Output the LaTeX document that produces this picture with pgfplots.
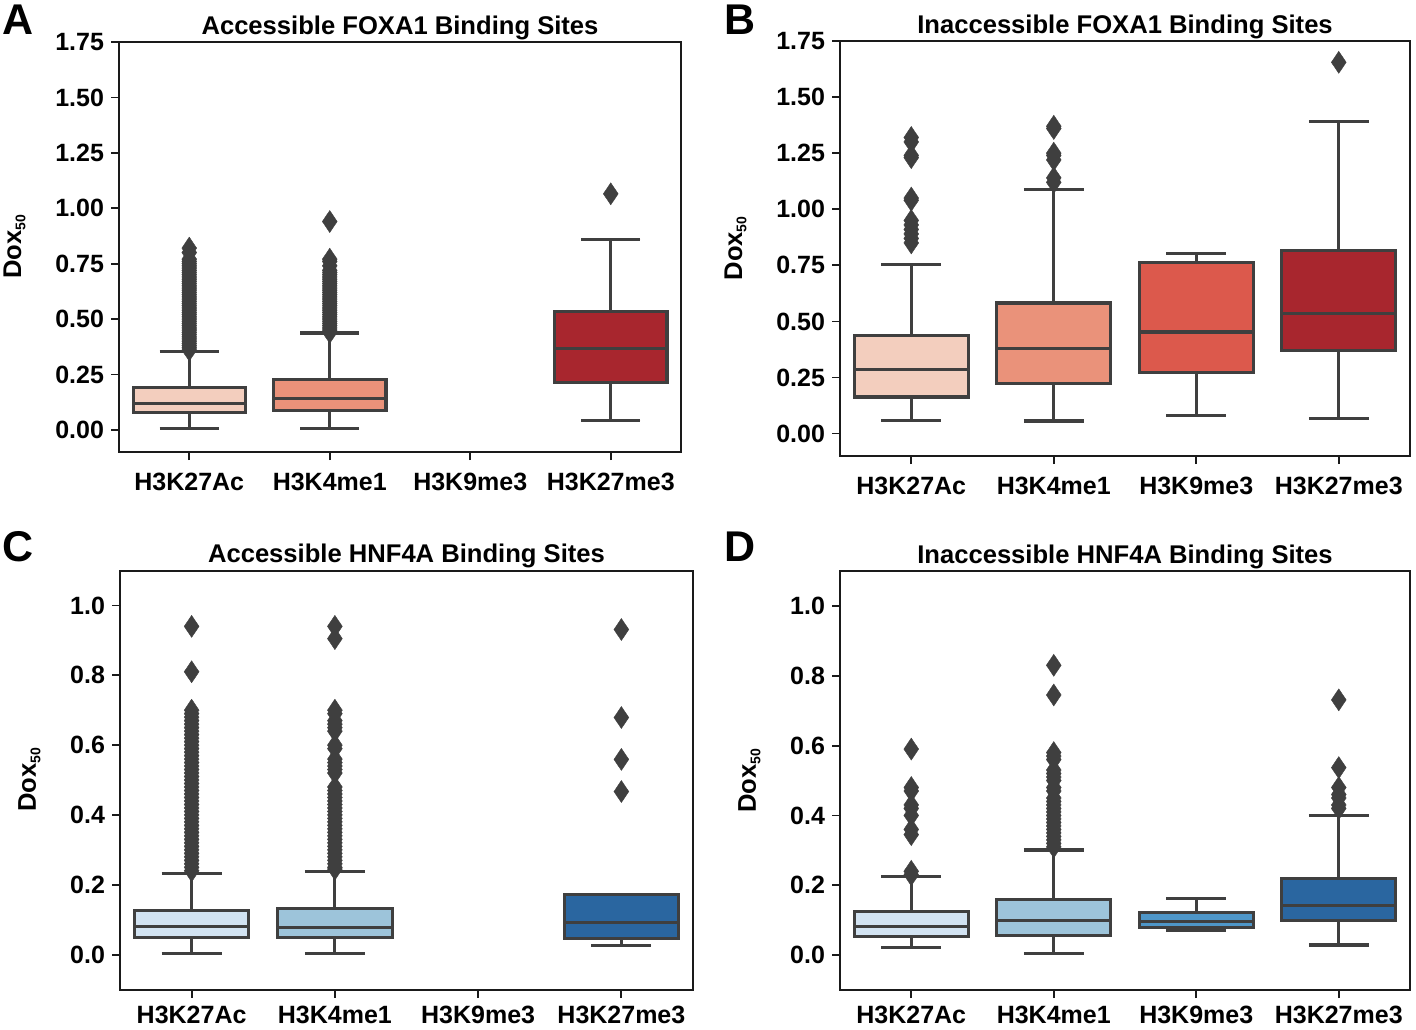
\documentclass[border=0pt]{standalone}
\usepackage{fontspec}
\setmainfont{Liberation Sans}
\usepackage{pgfplots}
\pgfplotsset{compat=1.18}
\usepgfplotslibrary{statistics}

\definecolor{dk}{HTML}{3F3F3F}
\definecolor{axc}{HTML}{1A1A1A}
\definecolor{rA}{HTML}{F3CEBE}
\definecolor{rB}{HTML}{EA927A}
\definecolor{rC}{HTML}{DC594C}
\definecolor{rD}{HTML}{A8262E}
\definecolor{bA}{HTML}{D2E3F2}
\definecolor{bB}{HTML}{9DC4DA}
\definecolor{bC}{HTML}{4E96C8}
\definecolor{bD}{HTML}{2A66A0}

\pgfplotsset{
  panel/.style={
    scale only axis,
    xmin=-0.5, xmax=3.5,
    xtick={0,1,2,3},
    xticklabels={H3K27Ac,H3K4me1,H3K9me3,H3K27me3},
    tick align=outside, xtick pos=bottom, ytick pos=left,
    major tick length=4pt,
    every tick/.style={axc, line width=0.9pt},
    axis line style={axc, line width=1pt},
    ticklabel style={font=\bfseries\fontsize{12.5}{14}\selectfont},
    /pgf/number format/assume math mode=true,
    title style={font=\bfseries\fontsize{12.8}{15}\selectfont, at={(0.5,1)}, anchor=base, yshift=-2.2pt},
    ylabel={Dox{\fontsize{7}{8}\selectfont\raisebox{-2.2pt}{50}}},
    ylabel style={font=\bfseries\fontsize{12.8}{14}\selectfont, yshift=8pt},
    boxplot/draw direction=y,
    clip=false,
  },
  bx/.style={draw=dk, line width=1.55pt, mark=diamond*,
    mark size=5.5pt,
    mark options={solid, fill=dk, draw=dk, line width=0.2pt, xscale=0.9},
    boxplot/box extend=0.8, boxplot/whisker extend=0.42},
  fmtA/.style={ytick={0,0.25,0.5,0.75,1,1.25,1.5,1.75}, ymin=-0.1, ymax=1.75,
    xticklabel style={yshift=-3pt},
    yticklabel style={/pgf/number format/.cd, fixed, fixed zerofill, precision=2}},
  fmtC/.style={ytick={0,0.2,0.4,0.6,0.8,1.0}, ymin=-0.1, ymax=1.1,
    xticklabel style={yshift=-0.5pt},
    yticklabel style={/pgf/number format/.cd, fixed, fixed zerofill, precision=1}},
}

\begin{document}
\begin{tikzpicture}
\useasboundingbox (0,0) rectangle (708pt,-514.5pt);

% ---------------- A ----------------
\begin{axis}[panel, fmtA, at={(59.5pt,-226pt)}, anchor=south west,
  width=281pt, height=205pt, title={Accessible FOXA1 Binding Sites}]
\addplot[bx, fill=rA, boxplot prepared={draw position=0, lower whisker=0.008,
  lower quartile=0.077, median=0.120, upper quartile=0.191, upper whisker=0.354}]
  table[row sep=\\, y index=0] {y\\0.36\\0.37\\0.38\\0.39\\0.40\\0.41\\0.42\\0.43\\0.44\\0.45\\0.46\\0.47\\0.48\\0.49\\0.50\\0.51\\0.52\\0.53\\0.54\\0.55\\0.56\\0.57\\0.58\\0.59\\0.60\\0.61\\0.62\\0.63\\0.64\\0.65\\0.66\\0.67\\0.68\\0.69\\0.70\\0.71\\0.72\\0.73\\0.74\\0.75\\0.76\\0.77\\0.80\\0.82\\};
\addplot[bx, fill=rB, boxplot prepared={draw position=1, lower whisker=0.008,
  lower quartile=0.086, median=0.142, upper quartile=0.229, upper whisker=0.437}]
  table[row sep=\\, y index=0] {y\\0.44\\0.45\\0.46\\0.47\\0.48\\0.49\\0.50\\0.51\\0.52\\0.53\\0.54\\0.55\\0.56\\0.57\\0.58\\0.59\\0.60\\0.61\\0.62\\0.63\\0.64\\0.65\\0.66\\0.67\\0.68\\0.69\\0.70\\0.71\\0.72\\0.74\\0.76\\0.77\\0.94\\};
\addplot[bx, fill=rD, boxplot prepared={draw position=3, lower whisker=0.041,
  lower quartile=0.214, median=0.367, upper quartile=0.535, upper whisker=0.860}]
  table[row sep=\\, y index=0] {y\\1.065\\};
\end{axis}

% ---------------- B ----------------
\begin{axis}[panel, fmtA, at={(420pt,-228pt)}, anchor=south west,
  width=285pt, height=207.5pt, title={Inaccessible FOXA1 Binding Sites}]
\addplot[bx, fill=rA, boxplot prepared={draw position=0, lower whisker=0.059,
  lower quartile=0.163, median=0.286, upper quartile=0.438, upper whisker=0.754}]
  table[row sep=\\, y index=0] {y\\0.85\\0.87\\0.89\\0.91\\0.93\\0.95\\1.04\\1.05\\1.23\\1.24\\1.30\\1.32\\};
\addplot[bx, fill=rB, boxplot prepared={draw position=1, lower whisker=0.056,
  lower quartile=0.223, median=0.378, upper quartile=0.582, upper whisker=1.090}]
  table[row sep=\\, y index=0] {y\\1.12\\1.14\\1.22\\1.24\\1.25\\1.36\\1.37\\};
\addplot[bx, fill=rC, boxplot prepared={draw position=2, lower whisker=0.082,
  lower quartile=0.274, median=0.453, upper quartile=0.764, upper whisker=0.804}]
  coordinates {};
\addplot[bx, fill=rD, boxplot prepared={draw position=3, lower whisker=0.067,
  lower quartile=0.371, median=0.534, upper quartile=0.816, upper whisker=1.390}]
  table[row sep=\\, y index=0] {y\\1.655\\};
\end{axis}

% ---------------- C ----------------
\begin{axis}[panel, fmtC, at={(60pt,-494.75pt)}, anchor=south west,
  width=286.5pt, height=209.5pt, title={Accessible HNF4A Binding Sites}]
\addplot[bx, fill=bA, boxplot prepared={draw position=0, lower whisker=0.003,
  lower quartile=0.050, median=0.081, upper quartile=0.127, upper whisker=0.232}]
  table[row sep=\\, y index=0] {y\\0.24\\0.25\\0.26\\0.27\\0.28\\0.29\\0.30\\0.31\\0.32\\0.33\\0.34\\0.35\\0.36\\0.37\\0.38\\0.39\\0.40\\0.41\\0.42\\0.43\\0.44\\0.45\\0.46\\0.47\\0.48\\0.49\\0.50\\0.51\\0.52\\0.53\\0.54\\0.55\\0.56\\0.57\\0.58\\0.59\\0.60\\0.61\\0.62\\0.63\\0.64\\0.65\\0.66\\0.67\\0.68\\0.69\\0.70\\0.81\\0.94\\};
\addplot[bx, fill=bB, boxplot prepared={draw position=1, lower whisker=0.003,
  lower quartile=0.050, median=0.078, upper quartile=0.131, upper whisker=0.239}]
  table[row sep=\\, y index=0] {y\\0.245\\0.25\\0.26\\0.27\\0.28\\0.29\\0.30\\0.31\\0.32\\0.33\\0.34\\0.35\\0.36\\0.37\\0.38\\0.39\\0.40\\0.41\\0.42\\0.43\\0.44\\0.45\\0.46\\0.47\\0.48\\0.52\\0.53\\0.54\\0.55\\0.56\\0.59\\0.60\\0.64\\0.65\\0.66\\0.67\\0.69\\0.70\\0.905\\0.94\\};
\addplot[bx, fill=bD, boxplot prepared={draw position=3, lower whisker=0.027,
  lower quartile=0.046, median=0.091, upper quartile=0.172, upper whisker=0.172}]
  table[row sep=\\, y index=0] {y\\0.467\\0.559\\0.679\\0.931\\};
\end{axis}

% ---------------- D ----------------
\begin{axis}[panel, fmtC, at={(420pt,-495pt)}, anchor=south west,
  width=285pt, height=209.5pt, title={Inaccessible HNF4A Binding Sites}]
\addplot[bx, fill=bA, boxplot prepared={draw position=0, lower whisker=0.021,
  lower quartile=0.053, median=0.081, upper quartile=0.124, upper whisker=0.224}]
  table[row sep=\\, y index=0] {y\\0.23\\0.24\\0.345\\0.36\\0.40\\0.42\\0.43\\0.47\\0.48\\0.59\\};
\addplot[bx, fill=bB, boxplot prepared={draw position=1, lower whisker=0.005,
  lower quartile=0.055, median=0.099, upper quartile=0.158, upper whisker=0.301}]
  table[row sep=\\, y index=0] {y\\0.31\\0.32\\0.33\\0.34\\0.35\\0.36\\0.37\\0.38\\0.39\\0.40\\0.41\\0.42\\0.43\\0.44\\0.45\\0.47\\0.48\\0.50\\0.51\\0.52\\0.53\\0.56\\0.57\\0.58\\0.745\\0.83\\};
\addplot[bx, fill=bC, boxplot prepared={draw position=2, lower whisker=0.072,
  lower quartile=0.080, median=0.095, upper quartile=0.122, upper whisker=0.163}]
  coordinates {};
\addplot[bx, fill=bD, boxplot prepared={draw position=3, lower whisker=0.029,
  lower quartile=0.098, median=0.141, upper quartile=0.220, upper whisker=0.401}]
  table[row sep=\\, y index=0] {y\\0.42\\0.43\\0.45\\0.46\\0.48\\0.537\\0.731\\};
\end{axis}

% panel letters
\node[anchor=base west, inner sep=0pt, font=\bfseries\fontsize{21.5}{24}\selectfont] at (1pt,-17pt) {A};
\node[anchor=base west, inner sep=0pt, font=\bfseries\fontsize{21.5}{24}\selectfont] at (362pt,-17pt) {B};
\node[anchor=base west, inner sep=0pt, font=\bfseries\fontsize{21.5}{24}\selectfont] at (1pt,-280.5pt) {C};
\node[anchor=base west, inner sep=0pt, font=\bfseries\fontsize{21.5}{24}\selectfont] at (362pt,-280.5pt) {D};
\end{tikzpicture}
\end{document}
